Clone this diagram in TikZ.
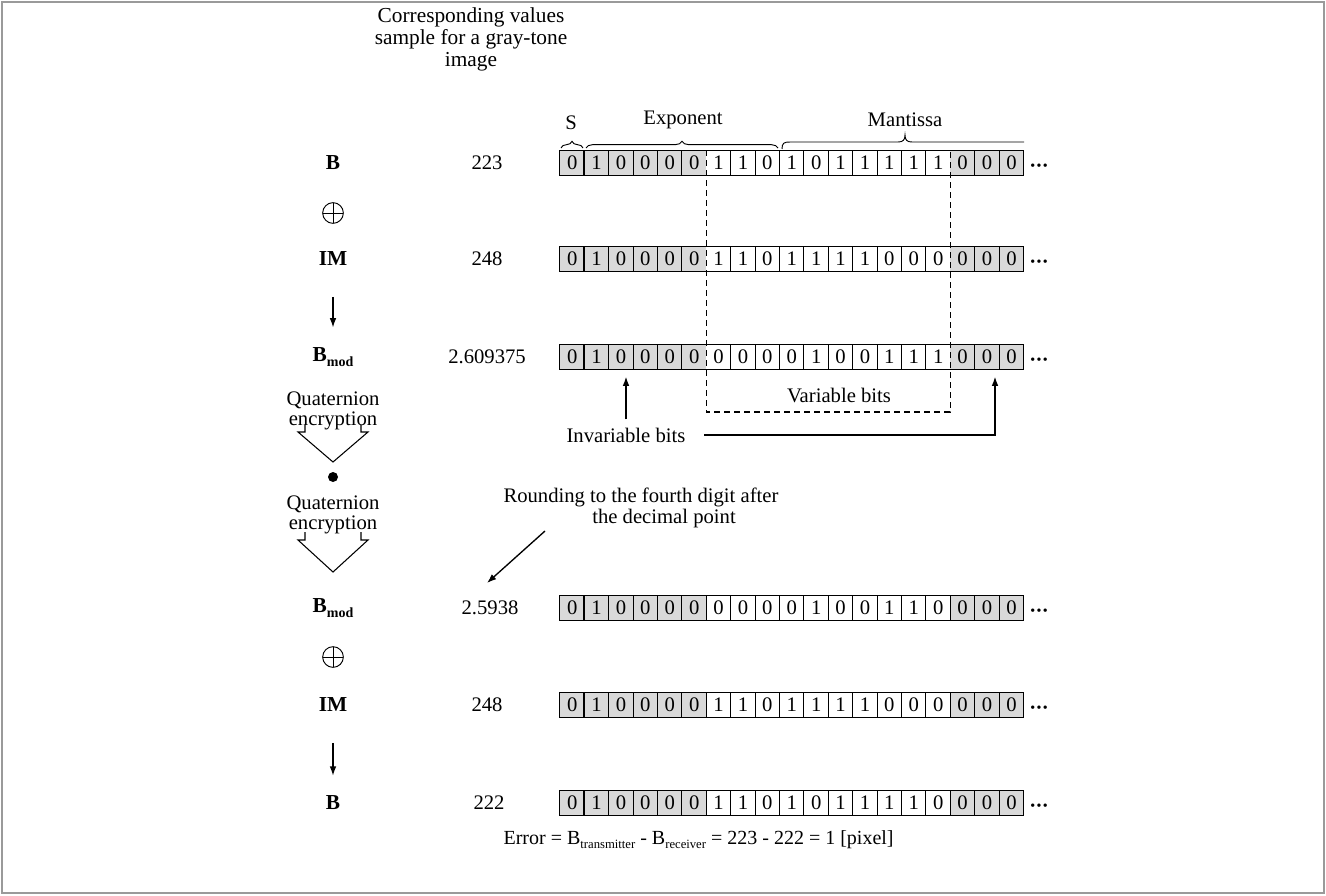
\documentclass[tikz,border=0pt]{standalone}
\usepackage{fontspec}
\setmainfont{Liberation Serif}
\usetikzlibrary{arrows.meta,decorations.pathreplacing}
\definecolor{cellgray}{HTML}{D9D9D9}
\definecolor{framegray}{HTML}{9A9A9A}
\tikzset{
  cell/.style={minimum width=18.3pt, minimum height=19pt, inner sep=0pt, font=\fontsize{15.5}{17}\selectfont},
  lbl/.style={font=\fontsize{16}{18}\selectfont\bfseries, inner sep=1pt},
  val/.style={font=\fontsize{15.5}{18}\selectfont, inner sep=1pt},
  txt/.style={font=\fontsize{15.5}{15}\selectfont, align=center, inner sep=1pt},
  hdrtxt/.style={font=\fontsize{16}{16.5}\selectfont, align=center, inner sep=1pt},
  arr/.style={-{Latex[length=7pt,width=5pt]}, line width=1pt},
  sepline/.style={line width=0.5pt},
  thicksep/.style={line width=1.1pt},
  varbox/.style={dash pattern=on 4.5pt off 3pt, line width=0.9pt},
  oplusnode/.style={circle, draw, line width=0.7pt, inner sep=0pt, minimum size=15.5pt,
    path picture={\draw[line width=0.7pt] (path picture bounding box.north) -- (path picture bounding box.south)
      (path picture bounding box.west) -- (path picture bounding box.east);}},
  chev/.style={line width=0.8pt},
  bracebar/.style={decorate, decoration={brace, amplitude=5pt}, line width=0.7pt},
}
\newcommand\bitrow[4]{%
  \foreach \b [count=\i from 0] in {#3}{%
    \pgfmathsetmacro\xx{572.2+24.4*\i}%
    \ifnum\i<6 \def\fc{cellgray}\else\ifnum\i>15 \def\fc{cellgray}\else\def\fc{white}\fi\fi
    \node[cell,fill=\fc] (#1c\i) at (\xx,#2) {\b};
  }
  \foreach \i in {#4}{\draw[sepline] (#1c\i.north west) -- (#1c\i.south west);}
  \foreach \i in {1,9}{\draw[thicksep] (#1c\i.north west) -- (#1c\i.south west);}
  \draw[line width=0.8pt] (#1c0.north west) rectangle (#1c18.south east);
  \node[val, anchor=base west] (#1dots) at ([xshift=3pt]#1c18.base east) {\bfseries\raisebox{-1.8pt}{\textperiodcentered\kern-0.5pt\textperiodcentered\kern-0.5pt\textperiodcentered}};
}
\newcommand\mylabelB[1]{B\raisebox{-0.45ex}{\fontsize{10.5}{10}\selectfont #1}}
\newcommand\errsub[1]{B\raisebox{-0.45ex}{\fontsize{9.5}{10}\selectfont #1}}
\begin{document}
\begin{tikzpicture}[x=0.75pt,y=-0.75pt]
\useasboundingbox (0,0) rectangle (1326,895);
\draw[framegray, line width=2.2pt] (2,2) rectangle (1324,893);

% header
\node[hdrtxt] (hdr) at (471,39) {Corresponding values\\sample for a gray-tone\\image};

% bit rows
\bitrow{r1}{163}{0,1,0,0,0,0,1,1,0,1,0,1,1,1,1,1,0,0,0}{2,3,4,5,7,8,10,11,12,13,14,15,17,18}
\bitrow{r2}{259}{0,1,0,0,0,0,1,1,0,1,1,1,1,0,0,0,0,0,0}{2,3,4,5,7,8,10,11,12,13,14,15,17,18}
\bitrow{r3}{357}{0,1,0,0,0,0,0,0,0,0,1,0,0,1,1,1,0,0,0}{2,3,4,5,7,8,10,11,12,13,14,15,17,18}
\bitrow{r4}{608}{0,1,0,0,0,0,0,0,0,0,1,0,0,1,1,0,0,0,0}{2,3,4,5,6,7,8,10,11,12,13,14,15,16,17,18}
\bitrow{r5}{705}{0,1,0,0,0,0,1,1,0,1,1,1,1,0,0,0,0,0,0}{2,3,4,5,6,7,8,10,11,12,13,14,15,16,17,18}
\bitrow{r6}{803}{0,1,0,0,0,0,1,1,0,1,0,1,1,1,1,0,0,0,0}{2,3,4,5,6,7,8,10,11,12,13,14,15,16,17,18}

% braces
\draw[bracebar] (561,148) -- (583,148);
\draw[bracebar] (586,148) -- (778,148);
\draw[line width=0.7pt] (782,149) .. controls (782,143) and (784,142) .. (790,142) -- (898,142)
  .. controls (903,142) and (905,140) .. (905,135) .. controls (905,140) and (907,142) .. (912,142) -- (1024,142);
\node[val] (sS) at (571,123) {S};
\node[val] (sE) at (683,120) {Exponent};
\node[val] (sM) at (905,120) {Mantissa};

% variable bits box
\coordinate (vb) at (0,412);
\draw[varbox] (r1c6.north west) -- (r1c6.north west |- vb) -- (r1c16.north west |- vb) -- (r1c16.north west);
\node[val] (var) at (839,395) {Variable bits};
\node[val] (inv) at (626,435) {Invariable bits};
\coordinate (arrX) at (995,0);
\draw[arr, shorten <=5pt, shorten >=5pt] (inv.north) -- (inv.north |- r3c2.south);
\draw[arr, shorten <=13pt, shorten >=5pt] (inv.east) -- (inv.east -| arrX) -- (arrX |- r3c17.south);

% left column
\node[lbl] (lB1) at (333,163) {B};
\node[oplusnode] (op1) at (333,213) {};
\node[lbl] (lIM1) at (333,259) {IM};
\node[lbl] (lBm1) at (333,357) {\mylabelB{mod}};
\draw[arr, shorten <=22pt, shorten >=14pt] (lIM1.south) -- (lBm1.north);
\node[txt] (q1) at (333,411) {Quaternion\\encryption};
\draw[chev] (305,425) -- (305,432) -- (298,432) -- (333,462) -- (368,432) -- (361,432) -- (361,425);
\node[circle, fill, inner sep=0pt, minimum size=7.5pt] (dot) at (333,477) {};
\node[txt] (q2) at (333,515) {Quaternion\\encryption};
\draw[chev] (305,532) -- (305,540) -- (298,540) -- (333,572) -- (368,540) -- (361,540) -- (361,532);
\node[lbl] (lBm2) at (333,608) {\mylabelB{mod}};
\node[oplusnode] (op2) at (333,657) {};
\node[lbl] (lIM2) at (333,705) {IM};
\node[lbl] (lB2) at (333,803) {B};
\draw[arr, shorten <=22pt, shorten >=14pt] (lIM2.south) -- (lB2.north);

% values
\node[val] (v1) at (487,163) {223};
\node[val] (v2) at (487,259) {248};
\node[val] (v3) at (487,357) {2.609375};
\node[val] (v4) at (490,608) {2.5938};
\node[val] (v5) at (487,705) {248};
\node[val] (v6) at (489,803) {222};

% rounding note
\node[val] (rnd1) at (641,497) {Rounding to the fourth digit after};
\node[val] (rnd2) at (664,519) {the decimal point};
\coordinate (rndA) at (545,531);
\coordinate (rndB) at (487,583);
\draw[arr] (rndA) -- (rndB);

% error line
\node[val, anchor=west, font=\fontsize{15}{18}\selectfont] (err) at (502,840) {Error = \errsub{transmitter} - \errsub{receiver} = 223 - 222 = 1 [pixel]};
\end{tikzpicture}
\end{document}
